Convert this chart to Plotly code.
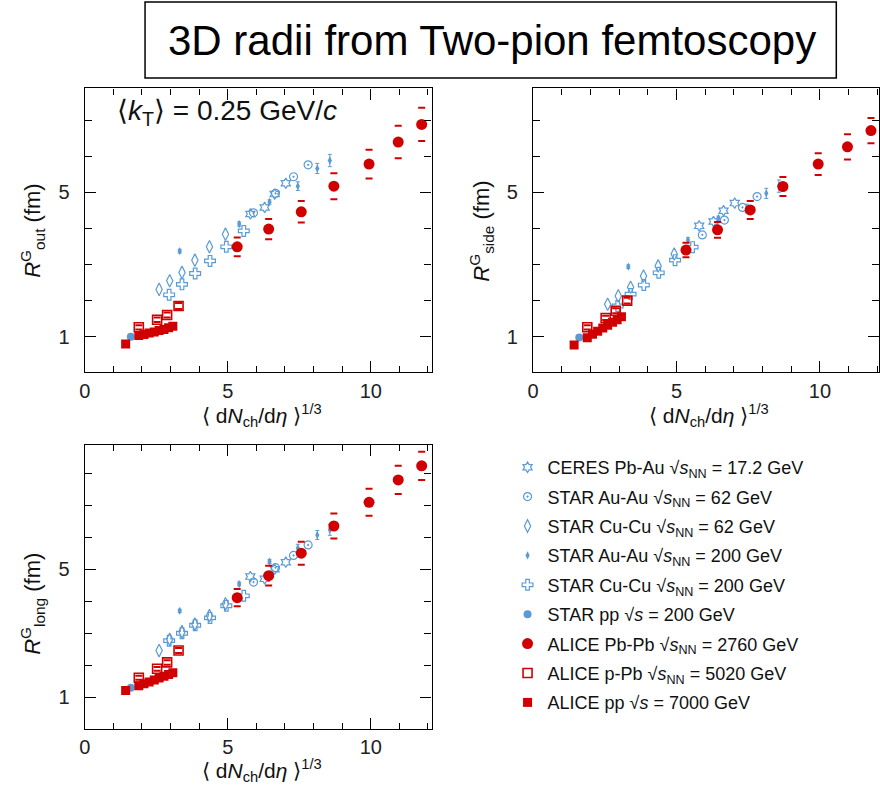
import plotly.graph_objects as go

W, H = 880, 798
BLUE = "#5b9bd5"
RED = "#d00000"
FONT = "Liberation Sans, Arial, sans-serif"

# ---- data: <dNch/deta>^(1/3) and Gaussian radii (fm) ----
ceres_x = [5.79, 6.29, 6.64, 7.03]
ceres_out = [4.40, 4.58, 4.95, 5.25]
ceres_side = [4.07, 4.19, 4.49, 4.70]
ceres_long = [4.77, 4.70, 5.00, 5.22]

star_auau62_x = [5.90, 6.67, 7.30, 7.81]
star_auau62_out = [4.43, 4.97, 5.43, 5.76]
star_auau62_side = [3.82, 4.23, 4.58, 4.88]
star_auau62_long = [4.60, 5.05, 5.43, 5.76]

star_cucu62_x = [2.60, 2.97, 3.40, 3.85, 4.36, 4.92]
star_cucu62_out = [2.31, 2.55, 2.78, 3.12, 3.49, 3.84]
star_cucu62_side = [1.90, 2.13, 2.37, 2.68, 2.96, 3.29]
star_cucu62_long = [2.46, 2.81, 3.05, 3.29, 3.55, 3.92]

star_auau200_x = [3.32, 5.40, 6.46, 7.45, 8.13, 8.57]
star_auau200_out = [3.37, 4.12, 4.73, 5.17, 5.66, 5.88]
star_auau200_side = [2.94, 3.68, 4.28, 4.55, 4.97, 5.17]
star_auau200_long = [3.70, 4.54, 5.24, 5.66, 6.07, 6.23]
star_auau200_err = [0.05, 0.06, 0.06, 0.12, 0.14, 0.17]

star_cucu200_x = [2.95, 3.40, 3.86, 4.38, 4.95, 5.56]
star_cucu200_out = [2.16, 2.45, 2.75, 3.10, 3.49, 3.93]
star_cucu200_side = [1.85, 2.18, 2.43, 2.77, 3.12, 3.48]
star_cucu200_long = [2.77, 3.00, 3.25, 3.48, 3.86, 4.17]

star_pp_x = [1.61]
star_pp_out = [1.00]
star_pp_side = [0.98]
star_pp_long = [1.30]

alice_pbpb_x = [5.33, 6.43, 7.57, 8.71, 9.94, 10.96, 11.78]
alice_pbpb_out = [3.49, 3.98, 4.46, 5.17, 5.78, 6.39, 6.88]
alice_pbpb_out_err = [0.26, 0.28, 0.30, 0.36, 0.40, 0.45, 0.46]
alice_pbpb_side = [3.40, 3.96, 4.51, 5.16, 5.78, 6.26, 6.71]
alice_pbpb_side_err = [0.20, 0.22, 0.25, 0.26, 0.30, 0.35, 0.35]
alice_pbpb_long = [4.11, 4.80, 5.50, 6.35, 7.09, 7.79, 8.23]
alice_pbpb_long_err = [0.27, 0.31, 0.36, 0.39, 0.42, 0.44, 0.44]

alice_ppb_x = [1.89, 2.53, 2.88, 3.28]
alice_ppb_out = [1.26, 1.47, 1.60, 1.85]
alice_ppb_side = [1.26, 1.52, 1.72, 2.00]
alice_ppb_long = [1.61, 1.89, 2.09, 2.46]
alice_ppb_err = [0.06, 0.06, 0.07, 0.08]

alice_pp_x = [1.43, 1.89, 2.07, 2.25, 2.43, 2.60, 2.77, 2.93, 3.08]
alice_pp_out = [0.80, 1.03, 1.06, 1.10, 1.13, 1.17, 1.20, 1.25, 1.29]
alice_pp_side = [0.77, 0.97, 1.07, 1.15, 1.24, 1.32, 1.40, 1.47, 1.55]
alice_pp_long = [1.21, 1.36, 1.42, 1.48, 1.54, 1.60, 1.66, 1.71, 1.77]
alice_pp_err = [0.08, 0.06, 0.06, 0.06, 0.06, 0.06, 0.06, 0.06, 0.07]

SNN = "\u221a<i>s</i><sub>NN</sub>"
SPP = "\u221a<i>s</i>"
series = [
    # name, x, (out, side, long), marker style, stat. errors
    ("CERES Pb-Au " + SNN + " = 17.2 GeV", ceres_x,
     (ceres_out, ceres_side, ceres_long),
     dict(symbol="hexagram-open", size=8, color=BLUE, line=dict(width=1.2, color=BLUE)), None),
    ("STAR Au-Au " + SNN + " = 62 GeV", star_auau62_x,
     (star_auau62_out, star_auau62_side, star_auau62_long),
     dict(symbol="circle-open-dot", size=8, color=BLUE, line=dict(width=1.2, color=BLUE)), None),
    ("STAR Cu-Cu " + SNN + " = 62 GeV", star_cucu62_x,
     (star_cucu62_out, star_cucu62_side, star_cucu62_long),
     dict(symbol="diamond-tall-open", size=9, color=BLUE, line=dict(width=1.2, color=BLUE)), None),
    ("STAR Au-Au " + SNN + " = 200 GeV", star_auau200_x,
     (star_auau200_out, star_auau200_side, star_auau200_long),
     dict(symbol="diamond-tall", size=6, color=BLUE, line=dict(width=0)), star_auau200_err),
    ("STAR Cu-Cu " + SNN + " = 200 GeV", star_cucu200_x,
     (star_cucu200_out, star_cucu200_side, star_cucu200_long),
     dict(symbol="cross-open", size=9, color=BLUE, line=dict(width=1.2, color=BLUE)), None),
    ("STAR pp " + SPP + " = 200 GeV", star_pp_x,
     (star_pp_out, star_pp_side, star_pp_long),
     dict(symbol="circle", size=8, color=BLUE, line=dict(width=0)), None),
    ("ALICE Pb-Pb " + SNN + " = 2760 GeV", alice_pbpb_x,
     (alice_pbpb_out, alice_pbpb_side, alice_pbpb_long),
     dict(symbol="circle", size=11, color=RED, line=dict(width=0)), None),
    ("ALICE p-Pb " + SNN + " = 5020 GeV", alice_ppb_x,
     (alice_ppb_out, alice_ppb_side, alice_ppb_long),
     dict(symbol="square-open", size=9, color=RED, line=dict(width=1.6, color=RED)), None),
    ("ALICE pp " + SPP + " = 7000 GeV", alice_pp_x,
     (alice_pp_out, alice_pp_side, alice_pp_long),
     dict(symbol="square", size=9, color=RED, line=dict(width=0)), None),
]

# systematic-uncertainty caps (short horizontal dashes above and below)
caps = [
    (alice_pbpb_x, (alice_pbpb_out, alice_pbpb_side, alice_pbpb_long),
     (alice_pbpb_out_err, alice_pbpb_side_err, alice_pbpb_long_err)),
    (alice_ppb_x, (alice_ppb_out, alice_ppb_side, alice_ppb_long),
     (alice_ppb_err, alice_ppb_err, alice_ppb_err)),
    (alice_pp_x, (alice_pp_out, alice_pp_side, alice_pp_long),
     (alice_pp_err, alice_pp_err, alice_pp_err)),
]

axes = [("x", "y"), ("x2", "y2"), ("x3", "y3")]

fig = go.Figure()
for p, (xa, ya) in enumerate(axes):
    for name, xs, ys, mk, err in series:
        fig.add_trace(go.Scatter(
            x=xs, y=ys[p], mode="markers", name=name,
            marker=mk, xaxis=xa, yaxis=ya,
            showlegend=(p == 0), legendgroup=name,
            error_y=(dict(type="data", array=err, visible=True, color=BLUE,
                          thickness=1, width=2) if err else None),
        ))
    for xs, ys, es in caps:
        yv, ev = ys[p], es[p]
        fig.add_trace(go.Scatter(
            x=list(xs) + list(xs),
            y=[a + b for a, b in zip(yv, ev)] + [a - b for a, b in zip(yv, ev)],
            mode="markers", xaxis=xa, yaxis=ya, showlegend=False, hoverinfo="skip",
            marker=dict(symbol="line-ew", size=5, line=dict(width=2, color=RED)),
        ))


def px_dom(a, b, total):
    return [a / total, b / total]


def ydom(top, bottom):
    return [1 - bottom / H, 1 - top / H]


def xaxis_cfg(dom, rng, anchor):
    return dict(
        domain=dom, range=rng, anchor=anchor,
        showline=True, linecolor="black", linewidth=1.4, mirror="allticks",
        ticks="inside", ticklen=11, tickwidth=1.2, tickcolor="black",
        tickmode="array", tickvals=[0, 5, 10], ticktext=["0", "5", "10"],
        tickfont=dict(family=FONT, size=20, color="#222"), ticklabelstandoff=0,
        minor=dict(tickmode="array", tickvals=list(range(0, 13)), ticks="inside",
                   ticklen=6, tickwidth=1.2, tickcolor="black"),
        showgrid=False, zeroline=False,
    )


def yaxis_cfg(dom, rng, anchor, top):
    return dict(
        domain=dom, range=rng, anchor=anchor,
        showline=True, linecolor="black", linewidth=1.4, mirror="allticks",
        ticks="inside", ticklen=11, tickwidth=1.2, tickcolor="black",
        tickmode="array", tickvals=[1, 5], ticktext=["1", "5"],
        tickfont=dict(family=FONT, size=20, color="#222"), ticklabelstandoff=10,
        minor=dict(tickmode="array", tickvals=list(range(0, top + 1)), ticks="inside",
                   ticklen=7, tickwidth=1.2, tickcolor="black"),
        showgrid=False, zeroline=False,
    )


fig.update_layout(
    width=W, height=H, margin=dict(l=0, r=0, t=0, b=0),
    paper_bgcolor="white", plot_bgcolor="white",
    font=dict(family=FONT, color="#111"),
    xaxis=xaxis_cfg(px_dom(79.3, 428.6, W), [0, 12.13], "y"),
    yaxis=yaxis_cfg(ydom(88.3, 372.3), [0.014, 7.88], "x", 7),
    xaxis2=xaxis_cfg(px_dom(530.7, 879.0, W), [0, 12.06], "y2"),
    yaxis2=yaxis_cfg(ydom(88.3, 372.3), [0.014, 7.88], "x2", 7),
    xaxis3=xaxis_cfg(px_dom(79.3, 428.6, W), [0, 12.13], "y3"),
    yaxis3=yaxis_cfg(ydom(445, 729), [0.01, 8.88], "x3", 8),
    legend=dict(x=505 / W, y=1 - 449 / H, xanchor="left", yanchor="top",
                font=dict(family=FONT, size=18, color="#111"),
                bgcolor="rgba(0,0,0,0)", tracegroupgap=3, itemwidth=30),
    showlegend=True,
)

xtitle = "\u27e8 d<i>N</i><sub>ch</sub>/d<i>\u03b7</i> \u27e9<sup>1/3</sup>"
ann = [
    dict(text="3D radii from Two-pion femtoscopy", x=489 / W, y=1 - 41 / H,
         font=dict(size=42, family=FONT, color="black")),
    dict(text="\u27e8<i>k</i><sub>T</sub>\u27e9 = 0.25 GeV/<i>c</i>", x=223 / W, y=1 - 112 / H,
         font=dict(size=28, family=FONT, color="#111")),
    dict(text=xtitle, x=258 / W, y=1 - 415 / H, font=dict(size=21, family=FONT)),
    dict(text=xtitle, x=708 / W, y=1 - 415 / H, font=dict(size=21, family=FONT)),
    dict(text=xtitle, x=258 / W, y=1 - 770 / H, font=dict(size=21, family=FONT)),
    dict(text="<i>R</i><sup>G</sup><sub>out</sub> (fm)", x=26 / W, y=1 - 231 / H,
         textangle=-90, font=dict(size=22, family=FONT)),
    dict(text="<i>R</i><sup>G</sup><sub>side</sub> (fm)", x=478 / W, y=1 - 231 / H,
         textangle=-90, font=dict(size=22, family=FONT)),
    dict(text="<i>R</i><sup>G</sup><sub>long</sub> (fm)", x=26 / W, y=1 - 604 / H,
         textangle=-90, font=dict(size=22, family=FONT)),
]
for a in ann:
    a.update(xref="paper", yref="paper", showarrow=False, xanchor="center", yanchor="middle")
fig.update_layout(annotations=ann)

fig.add_shape(type="rect", xref="paper", yref="paper",
              x0=140 / W, x1=836 / W, y0=1 - 78 / H, y1=1 - 2 / H,
              line=dict(color="black", width=1.5))

fig.write_html("out.html")
